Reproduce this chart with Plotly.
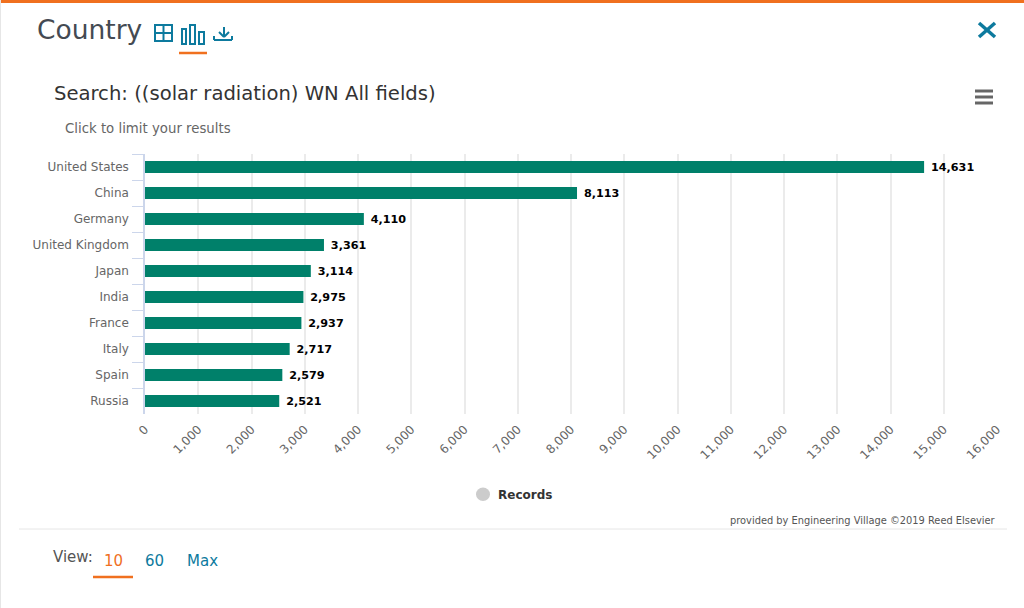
#!/usr/bin/python3
# -*- coding: utf-8 -*-
import plotly.graph_objects as go

COUNTRIES = ["United States", "China", "Germany", "United Kingdom", "Japan",
             "India", "France", "Italy", "Spain", "Russia"]
RECORDS = [14631, 8113, 4110, 3361, 3114, 2975, 2937, 2717, 2579, 2521]

W = 1024
H = 608
FONT = "DejaVu Sans"
TEAL = "#0d7a9e"
ORANGE = "#f0701f"
GREEN = "#00806a"


def fx(px):
    return px / W


def fy(px):
    return 1 - px / H


def line(x0, y0, x1, y1, color, width=1):
    return dict(type="line", xref="paper", yref="paper", x0=fx(x0), y0=fy(y0), x1=fx(x1), y1=fy(y1),
                line=dict(color=color, width=width), layer="above")


def rect(x0, y0, x1, y1, color, width=2):
    return dict(type="rect", xref="paper", yref="paper", x0=fx(x0), y0=fy(y0), x1=fx(x1), y1=fy(y1),
                line=dict(color=color, width=width), fillcolor="rgba(0,0,0,0)", layer="above")


def label(x, y, text, size, color, anchor="left"):
    return dict(xref="paper", yref="paper", x=fx(x), y=fy(y), text=text, showarrow=False, xanchor=anchor,
                yanchor="middle", font=dict(family=FONT, size=size, color=color))


shapes = [
    # page frame
    line(0, 1.5, 1024, 1.5, ORANGE, 3),
    line(0.5, 0, 0.5, 608, "#e6e6e6", 1),
    line(19, 529, 1007, 529, "#e6e6e6", 1),
    # table icon
    rect(155, 25, 172, 41, TEAL),
    line(163.5, 25, 163.5, 41, TEAL, 2),
    line(155, 33, 172, 33, TEAL, 2),
    # bar chart icon
    rect(182, 29, 186, 44, TEAL),
    rect(190, 25, 195, 44, TEAL),
    rect(199, 32, 204, 44, TEAL),
    line(179, 53, 207, 53, ORANGE, 2.5),
    # download icon
    line(224, 27, 224, 37, TEAL, 2),
    line(219, 32, 224, 37, TEAL, 2),
    line(229, 32, 224, 37, TEAL, 2),
    line(214, 36, 214, 40, TEAL, 2),
    line(214, 40, 232, 40, TEAL, 2),
    line(232, 36, 232, 40, TEAL, 2),
    # close icon
    line(979, 23, 995, 37, TEAL, 3.5),
    line(979, 37, 995, 23, TEAL, 3.5),
    # menu icon
    line(975, 91, 993, 91, "#666666", 3),
    line(975, 97, 993, 97, "#666666", 3),
    line(975, 103, 993, 103, "#666666", 3),
    # legend marker
    dict(type="circle", xref="paper", yref="paper", x0=fx(476), y0=fy(487.5), x1=fx(490), y1=fy(501),
         fillcolor="#cccccc", line=dict(width=0)),
    # view underline
    line(93, 577, 133, 577, ORANGE, 2.5),
]

annotations = [
    label(35, 30, "Country", 26.5, "#444a52"),
    label(52, 93, "Search: ((solar radiation) WN All fields)", 19.6, "#333333"),
    label(63, 128, "Click to limit your results", 13.3, "#666666"),
    label(496, 495, "<b>Records</b>", 12, "#333333"),
    label(998, 520, "provided by Engineering Village ©2019 Reed Elsevier", 9.85, "#555555", "right"),
    label(51, 557, "View:", 15, "#555555"),
    label(102, 561, "10", 15, ORANGE),
    label(143, 561, "60", 15, TEAL),
    label(185, 561, "Max", 15, TEAL),
]

fig = go.Figure()
fig.add_trace(go.Bar(x=RECORDS, y=COUNTRIES, orientation="h", name="Records",
                     marker=dict(color=GREEN, line=dict(color="#ffffff", width=0)),
                     texttemplate=" %{x:,}", textposition="outside", cliponaxis=False,
                     constraintext="none",
                     textfont=dict(family=FONT, size=11.2, color="#000000", weight="bold"),
                     hoverinfo="x+y"))

fig.update_layout(
    width=W,
    height=H,
    margin=dict(l=0, r=0, t=0, b=0),
    paper_bgcolor="#ffffff",
    plot_bgcolor="#ffffff",
    showlegend=False,
    bargap=0.54,
    shapes=shapes,
    annotations=annotations,
    xaxis=dict(
        domain=[fx(145), fx(997)],
        range=[0, 16000],
        dtick=1000,
        tickformat=",",
        tickangle=-45,
        ticks="",
        ticklabelstandoff=5,
        showgrid=True,
        gridcolor="#ebebeb",
        gridwidth=1.5,
        zeroline=False,
        showline=False,
        automargin=False,
        tickfont=dict(family=FONT, size=12, color="#666666"),
    ),
    yaxis=dict(
        domain=[fy(414), fy(154)],
        autorange="reversed",
        tickson="boundaries",
        ticks="outside",
        ticklen=11,
        tickcolor="#ccd6eb",
        tickwidth=1,
        showgrid=False,
        showline=True,
        linecolor="#ccd6eb",
        linewidth=1.5,
        automargin=False,
        ticklabelstandoff=12,
        tickfont=dict(family=FONT, size=12, color="#666666"),
    ),
)

fig.write_html(
    "out.html",
    config=dict(displayModeBar=False),
    post_script="document.body.style.margin='0';document.body.style.overflow='hidden';",
)
